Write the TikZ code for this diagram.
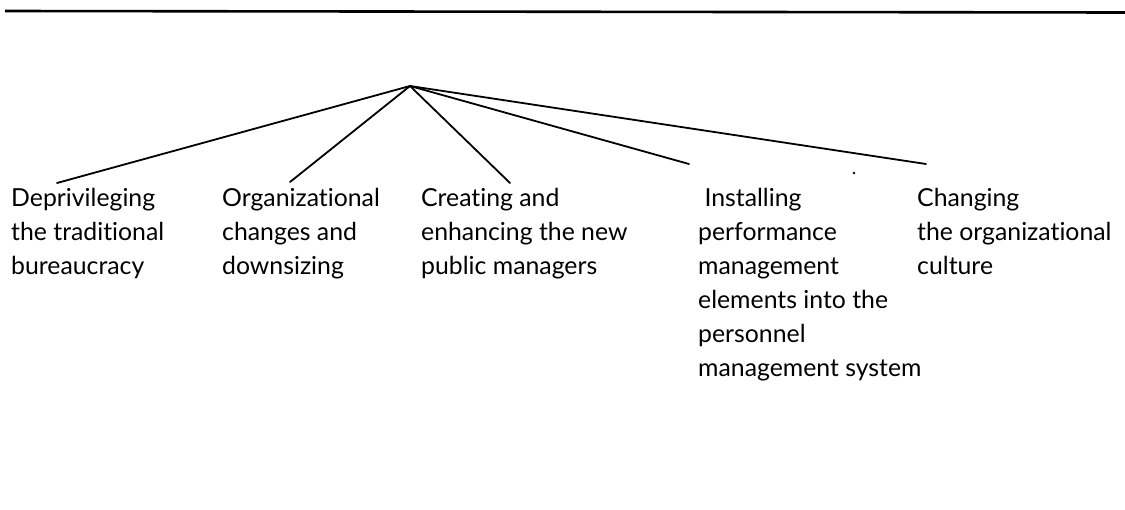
\documentclass[tikz,border=0pt]{standalone}
\usepackage{fontspec}
\setmainfont{Lato}[Ligatures={NoCommon,NoRare,NoDiscretionary}]
\begin{document}
\begin{tikzpicture}[x=1pt,y=-1pt,
  branch/.style={line width=1.8pt,line cap=round},
  rule/.style={line width=2.6pt},
  label/.style={anchor=north west,inner sep=0pt,align=left,
    font=\fontsize{24.8}{34.1}\selectfont}]
  \useasboundingbox (0,0) rectangle (1125,509);

  % heading rule
  \coordinate (ruleL) at (5,11);
  \coordinate (ruleR) at (1125,12.5);
  \draw[rule] (ruleL) -- (ruleR);

  % the common root of all branches
  \coordinate (root) at (410,86);

  % branch ends
  \coordinate (e1) at (57,183);
  \coordinate (e2) at (290,182);
  \coordinate (e3) at (510,183);
  \coordinate (e4) at (689,164);
  \coordinate (e5) at (926,164);

  \foreach \e in {e1,e2,e3,e4,e5}
    \draw[branch] (root) -- (\e);

  % labels (first baseline at y = 206)
  \node[label] (l1) at (11,182.1) {\strut Deprivileging\\\strut the traditional\\\strut bureaucracy};
  \node[label] (l2) at (222,182.1) {\strut Organizational\\\strut changes and\\\strut downsizing};
  \node[label] (l3) at (421,182.1) {\strut Creating and\\\strut enhancing the new\\\strut public managers};
  \node[label] (l4) at (698,182.1) {\strut\ Installing\\\strut performance\\\strut management\\\strut elements into the\\\strut personnel\\\strut management system};
  \node[label] (l5) at (917,182.1) {\strut Changing\\\strut the organizational\\\strut culture};

  % stray speck
  \fill (854,173) circle (1.3);
\end{tikzpicture}
\end{document}
